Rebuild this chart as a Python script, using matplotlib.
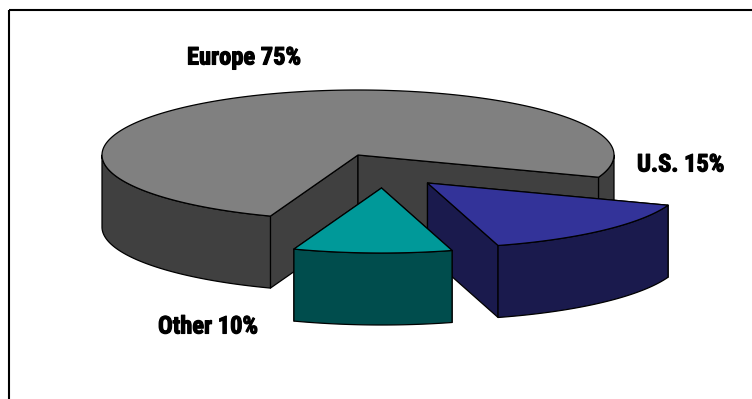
import numpy as np
import matplotlib
matplotlib.use("Agg")
import matplotlib.pyplot as plt
import matplotlib.patheffects as pe
from matplotlib.patches import Polygon, Rectangle

# --- Data ---
regions = ["Europe", "U.S.", "Other"]
shares = [75, 15, 10]
top_colors = ["#808080", "#333399", "#009999"]
side_colors = ["#404040", "#1A1A4D", "#004D4D"]

# --- Pie geometry (pixel space) ---
CENTER = (358.0, 155.0)
RX, RY = 256.0, 65.0
DEPTH = 72.0
START_ANGLE = -20.0
OFFSETS = {"Europe": (0, 0), "U.S.": (69.5, 28), "Other": (23.5, 33)}
LABEL_POS = {"Europe": (187, 58), "U.S.": (637, 165), "Other": (158, 327)}


def rim(t1, t2, cx, cy):
    """ Points along the ellipse between two angles (degrees, counterclockwise). """
    t = np.radians(np.linspace(t1, t2, max(int(abs(t2 - t1)) * 2, 2)))
    return np.column_stack([cx + RX * np.cos(t), cy - RY * np.sin(t)])


def add_poly(ax, pts, color):
    ax.add_patch(Polygon(pts, closed=True, facecolor=color, edgecolor="black",
                         linewidth=0.9, joinstyle="round"))


def draw_wedge(ax, t1, t2, offset, top, side):
    """ Draws one extruded slice: cut walls, front rim, then the top face. """
    cx, cy = CENTER[0] + offset[0], CENTER[1] + offset[1]
    apex = np.array([cx, cy])
    drop = np.array([0, DEPTH])
    for t in (t2, t1):
        edge = rim(t, t, cx, cy)[0]
        add_poly(ax, [apex, edge, edge + drop, apex + drop], side)
    # only the part of the rim on the front of the ellipse can be seen
    for lo, hi in ((-180, 0), (180, 360)):
        a, b = max(t1, lo), min(t2, hi)
        if a < b:
            arc = rim(a, b, cx, cy)
            add_poly(ax, np.vstack([arc, (arc + drop)[::-1]]), side)
    arc = rim(t1, t2, cx, cy)
    add_poly(ax, np.vstack([apex, arc]), top)


fig = plt.figure(figsize=(7.52, 3.99), dpi=100)
ax = fig.add_axes([0, 0, 1, 1])
ax.set_xlim(0, 752)
ax.set_ylim(399, 0)
ax.axis("off")

# frame runs off the right and bottom edges
ax.add_patch(Rectangle((8.5, 10), 800, 500, facecolor="none", edgecolor="black", linewidth=1.5))

# slices are laid out clockwise from the start angle, Europe going the long way round
sweeps = [s * 3.6 for s in shares]
spans = {"Europe": (START_ANGLE, START_ANGLE + sweeps[0]),
         "U.S.": (START_ANGLE - sweeps[1], START_ANGLE),
         "Other": (START_ANGLE - sweeps[1] - sweeps[2], START_ANGLE - sweeps[1])}

for i, name in enumerate(regions):
    draw_wedge(ax, spans[name][0], spans[name][1], OFFSETS[name], top_colors[i], side_colors[i])

for name, share in zip(regions, shares):
    x, y = LABEL_POS[name]
    ax.text(x, y, f"{name} {share}%", family=["Roboto Condensed", "DejaVu Sans"],
            fontweight="bold", fontsize=17.6, color="black", ha="left", va="center",
            path_effects=[pe.withStroke(linewidth=0.8, foreground="black")])

fig.savefig("out.png", dpi=100)
plt.close(fig)
